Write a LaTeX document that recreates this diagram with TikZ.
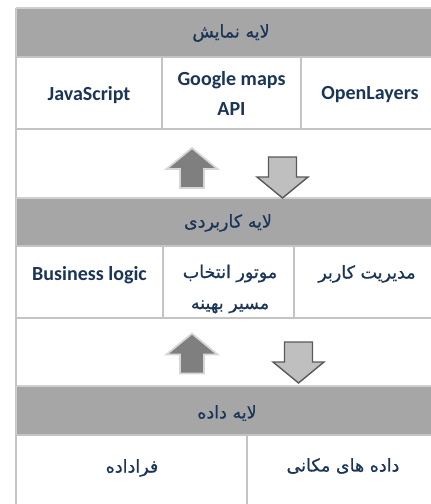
\documentclass[tikz,border=0pt]{standalone}
\usepackage{fontspec}
\setmainfont{Carlito}
\newfontfamily\fa[Script=Arabic, FakeBold=0.7]{DejaVu Sans}
\TeXXeTstate=1
\definecolor{band}{HTML}{A6A6A6}
\definecolor{bandedge}{HTML}{CFCFCF}
\definecolor{grid}{HTML}{C4C4C4}
\definecolor{ink}{HTML}{1B3558}
\definecolor{darkfill}{HTML}{7F7F7F}
\definecolor{lightedge}{HTML}{D6D6D6}
\definecolor{lightfill}{HTML}{BFBFBF}
\definecolor{darkedge}{HTML}{595959}
\tikzset{
  layerband/.style={fill=band, draw=bandedge, line width=1.5pt},
  cellbox/.style={fill=white, draw=grid, line width=1.6pt},
  entxt/.style={text=ink, font=\bfseries\fontsize{20}{30}\selectfont, align=center, inner sep=0pt},
  fatxt/.style={text=ink, font=\fa\fontsize{17.5}{31}\selectfont, align=center, inner sep=0pt},
  uparr/.pic={
    \filldraw[fill=darkfill, draw=lightedge, line width=1.8pt, line join=miter]
      (0,-20) -- (25.5,1) -- (12,1) -- (12,20) -- (-12,20) -- (-12,1) -- (-25.5,1) -- cycle;
  },
  downarr/.pic={
    \filldraw[fill=lightfill, draw=darkedge, line width=1.4pt, line join=miter]
      (0,20.5) -- (25.5,-0.5) -- (14,-0.5) -- (14,-20.5) -- (-14,-20.5) -- (-14,-0.5) -- (-25.5,-0.5) -- cycle;
  }
}
\begin{document}
\begin{tikzpicture}[x=1pt,y=-1pt]
\useasboundingbox (0,0) rectangle (431,504);
\clip (0,0) rectangle (431,504);

% left frame line through the whole stack
\draw[grid, line width=1.6pt] (16,8) -- (16,510);

% presentation layer
\draw[layerband] (16.5,8) rectangle (440,57);
\draw[cellbox] (16,57) rectangle (162,129);
\draw[cellbox] (162,57) rectangle (301,129);
\draw[cellbox] (301,57) rectangle (440,129);

% application layer
\draw[layerband] (16.5,198) rectangle (440,246);
\draw[cellbox] (16,246) rectangle (163,318);
\draw[cellbox] (163,246) rectangle (294,318);
\draw[cellbox] (294,246) rectangle (440,318);

% data layer
\draw[layerband] (16.5,386) rectangle (440,435);
\draw[cellbox] (16,435) rectangle (247,520);
\draw[cellbox] (247,435) rectangle (440,520);

% flow arrows between layers
\pic at (192,168) {uparr};
\pic at (282.5,177.5) {downarr};
\pic at (192,353.5) {uparr};
\pic at (298.5,362.5) {downarr};

% labels
\node[fatxt] (h1) at (231,33) {\beginR لایه نمایش\endR};
\node[entxt] (js) at (89,95) {JavaScript};
\node[entxt] (gm) at (231.5,93) {Google maps\\API};
\node[entxt] (ol) at (370,95) {OpenLayers};

\node[fatxt] (h2) at (228,223) {\beginR لایه کاربردی\endR};
\node[entxt] (bl) at (89.5,275) {Business logic};
\node[fatxt] (re) at (230,289) {\beginR موتور انتخاب\endR\\\beginR مسیر بهینه\endR};
\node[fatxt] (um) at (367,274) {\beginR مدیریت کاربر\endR};

\node[fatxt] (h3) at (227,413) {\beginR لایه داده\endR};
\node[fatxt] (md) at (132,468) {\beginR فراداده\endR};
\node[fatxt] (sd) at (343,466) {\beginR داده های مکانی\endR};
\end{tikzpicture}
\end{document}
